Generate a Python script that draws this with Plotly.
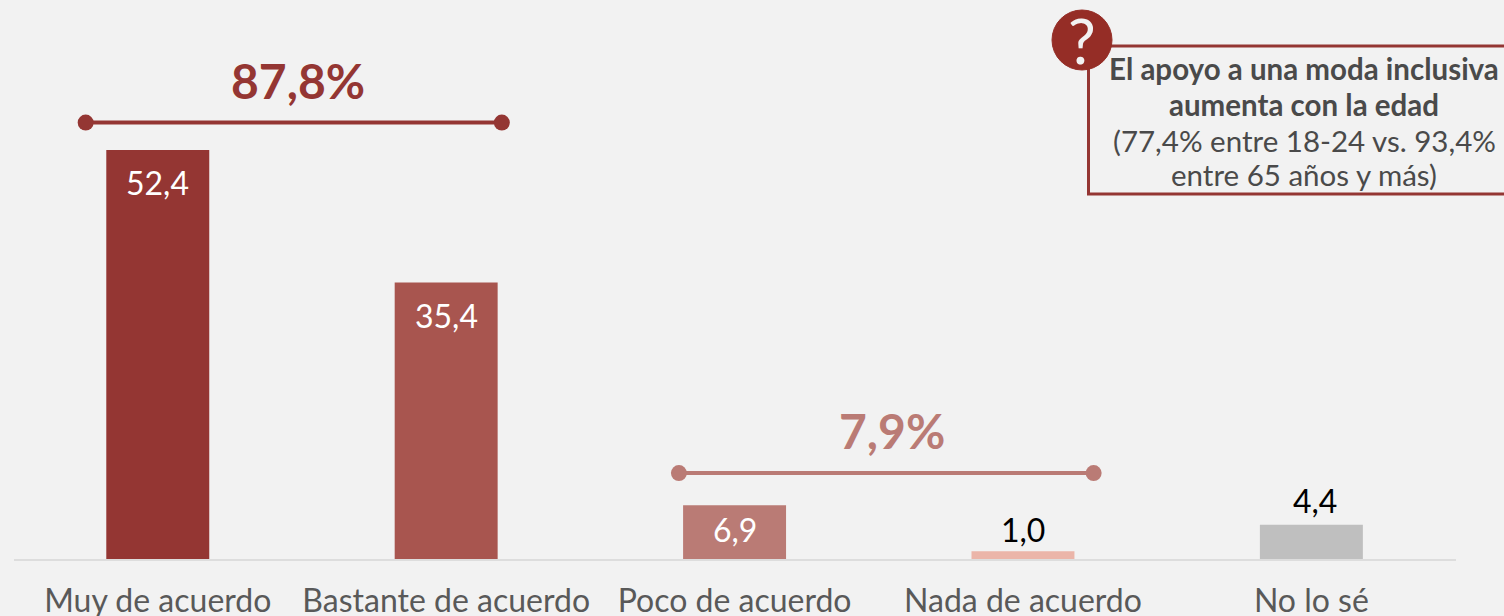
import plotly.graph_objects as go

categories = ["Muy de acuerdo", "Bastante de acuerdo", "Poco de acuerdo", "Nada de acuerdo", "No lo sé"]
values = [52.4, 35.4, 6.9, 1.0, 4.4]
value_labels = ["52,4", "35,4", "6,9", "1,0", "4,4"]
bar_colors = ["#943633", "#A8554F", "#BA7B75", "#EBB5A9", "#BFBFBF"]
label_colors = ["#FFFFFF", "#FFFFFF", "#FFFFFF", "#000000", "#000000"]
positions = [0, 1, 2, 3, 4]

group_x = [[-0.25, 1.193], [1.807, 3.245]]
group_y = [55.9, 11.0]
group_labels = ["87,8%", "7,9%"]
group_colors = ["#943633", "#BA7B75"]

note_lines = [
    "<b>El apoyo a una moda inclusiva</b>",
    "<b>aumenta con la edad</b>",
    "(77,4% entre 18-24 vs. 93,4%",
    "entre 65 años y más)",
]

W, H = 1504, 616
L, R, T, B = 14, 48, 0, 57
PW, PH = W - L - R, H - T - B
px = lambda x: (x - L) / PW
py = lambda y: 1 - (y - T) / PH

fig = go.Figure()
fig.add_trace(go.Bar(x=positions, y=values, width=0.357, marker=dict(color=bar_colors, line_width=0),
                     showlegend=False, hoverinfo="skip"))

annotations = []
for x, v, t, c in zip(positions, values, value_labels, label_colors):
    inside = c == "#FFFFFF"
    if inside:
        shift = -11 if v > 10 else -3
    else:
        shift = 0 if v < 2 else 3
    annotations.append(dict(x=x, y=v, xref="x", yref="y", text=t, showarrow=False,
                            yanchor="top" if inside else "bottom", yshift=shift,
                            xshift=4 if x == 4 else 0,
                            font=dict(family="Lato", size=32, color=c)))

for gx, gy, t, c, xs in zip(group_x, group_y, group_labels, group_colors, [4, 6]):
    fig.add_trace(go.Scatter(x=gx, y=[gy, gy], mode="lines+markers", line=dict(color=c, width=4),
                             marker=dict(color=c, size=16), showlegend=False, hoverinfo="skip",
                             cliponaxis=False))
    annotations.append(dict(x=sum(gx) / 2, y=gy, xref="x", yref="y", text=f"<b>{t}</b>", showarrow=False,
                            yanchor="bottom", yshift=12, xshift=xs, font=dict(family="Lato", size=48, color=c)))

note_y = [68, 104, 140, 174]
for line, y in zip(note_lines, note_y):
    annotations.append(dict(x=px(1304), y=py(y), xref="paper", yref="paper", text=line, showarrow=False,
                            xanchor="center", yanchor="middle", font=dict(family="Lato", size=29.5, color="#4A4A4A")))
annotations.append(dict(x=px(1082), y=py(40), xref="paper", yref="paper", text="?", showarrow=False,
                        xanchor="center", yanchor="middle", font=dict(family="Lato", size=62, color="#F2F2F2")))

shapes = [
    dict(type="rect", xref="paper", yref="paper", x0=px(1088.5), x1=px(1515), y0=py(46), y1=py(194),
         line=dict(color="#943633", width=3), fillcolor="rgba(0,0,0,0)", layer="above"),
    dict(type="circle", xref="paper", yref="paper", x0=px(1052), x1=px(1112), y0=py(70), y1=py(10),
         line=dict(color="#952D26", width=1), fillcolor="#952D26", layer="above"),
]

fig.update_layout(
    width=W, height=H, autosize=False,
    margin=dict(l=L, r=R, t=T, b=B, pad=0, autoexpand=False),
    paper_bgcolor="#F2F2F2", plot_bgcolor="#F2F2F2",
    font=dict(family="Lato"),
    annotations=annotations, shapes=shapes,
    xaxis=dict(range=[-0.4985, 4.5015], tickmode="array", tickvals=positions, ticktext=categories,
               showgrid=False, zeroline=False, showline=True, linecolor="#DDDDDD", linewidth=2,
               automargin=False,
               ticks="", tickfont=dict(family="Lato", size=32, color="#595959"), ticklabelstandoff=13),
    yaxis=dict(range=[0, 71.6], visible=False),
)
fig.write_html("out.html", config={"displayModeBar": False},
               post_script="document.body.style.margin='0';document.body.style.overflow='hidden';")
